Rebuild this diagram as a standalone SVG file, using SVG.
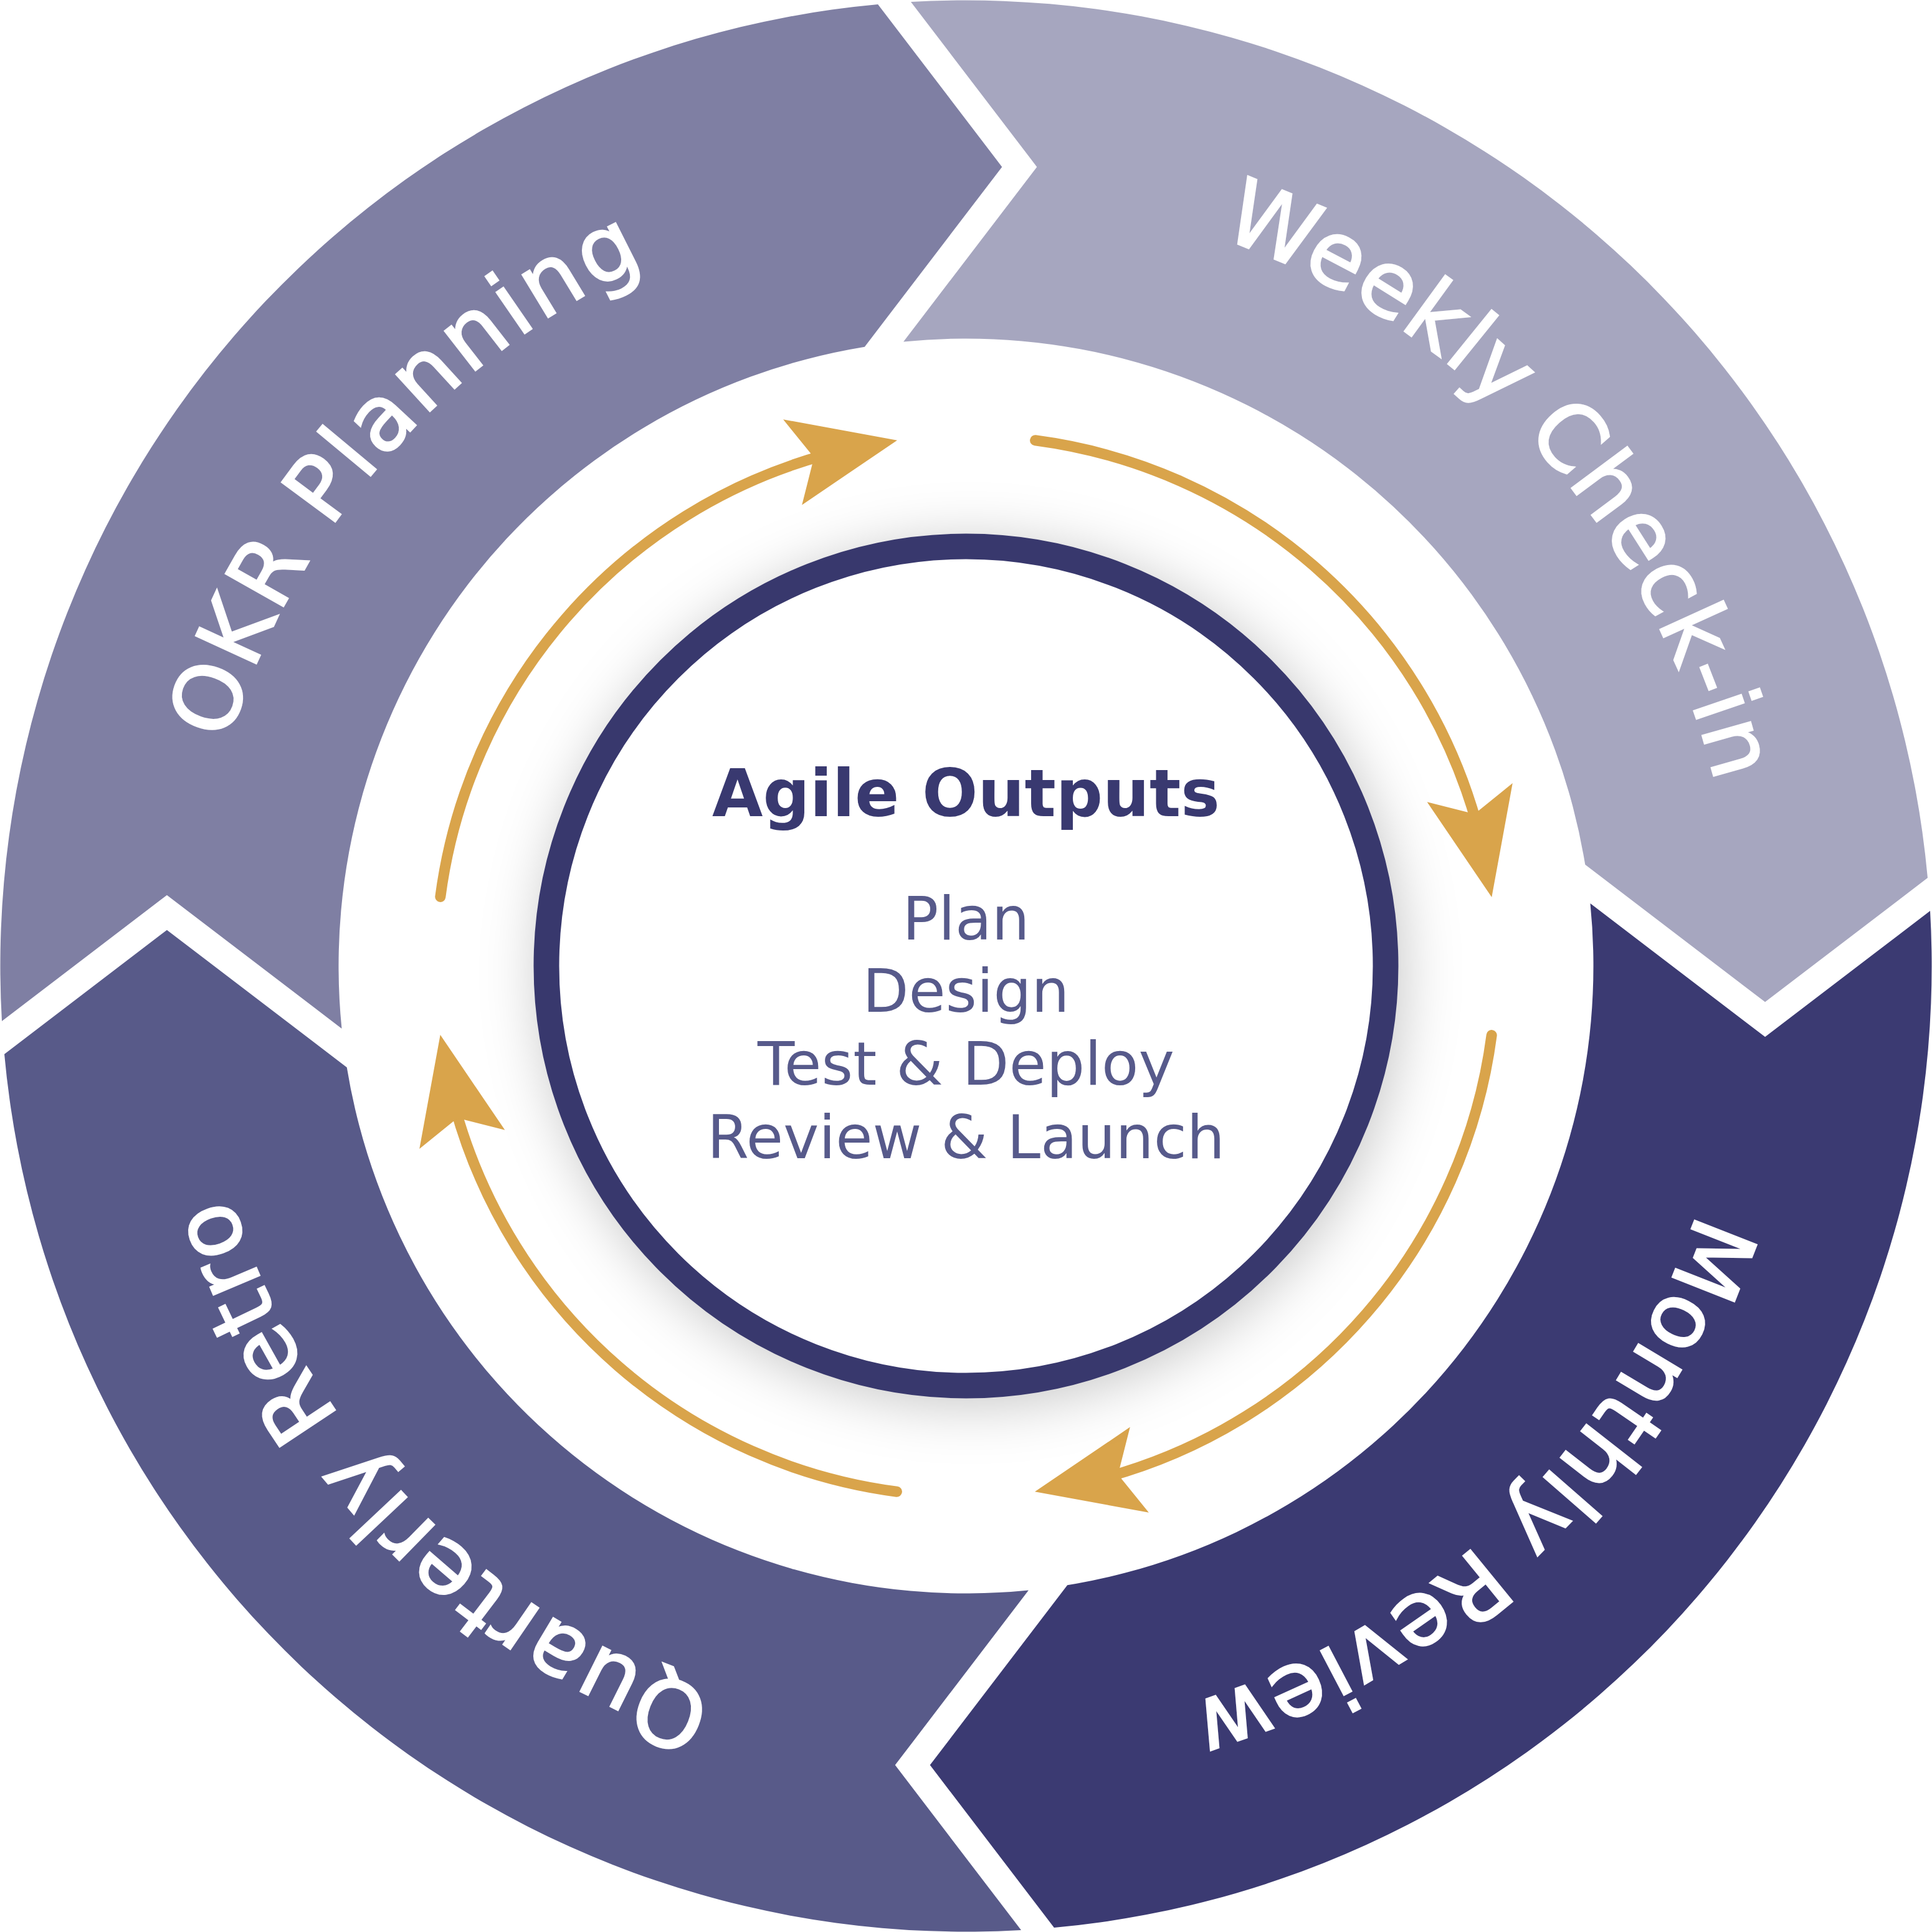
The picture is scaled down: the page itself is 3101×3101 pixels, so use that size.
<svg xmlns="http://www.w3.org/2000/svg" xmlns:xlink="http://www.w3.org/1999/xlink" width="3101" height="3101" viewBox="0 0 3101 3101">
  <style>
    .seg-label { font-family: "DejaVu Sans", "Open Sans", sans-serif; font-size: 146px; font-weight: 400; fill: #ffffff; stroke: #ffffff; stroke-width: 3; }
    .title { font-family: "DejaVu Sans", "Open Sans", sans-serif; font-size: 106px; font-weight: 700; fill: #393970; }
    .item { font-family: "DejaVu Sans", "Open Sans", sans-serif; font-size: 96px; font-weight: 400; fill: #575a8b; }
    .arc { fill: none; stroke: #d9a44b; stroke-width: 17; stroke-linecap: round; }
    .head { fill: #d9a44b; }
  </style>
  <defs>
    <path id="seg" d="M 1462.0 3.0 A 1550 1550 0 0 1 3094.0 1409.1 L 2833.1 1608.3 L 2544.3 1387.8 A 1007 1007 0 0 0 1450.1 548.5 L 1664.3 267.9 Z"/>
    <path id="lbl" d="M 331.3 1335.5 A 1238 1238 0 0 1 2769.7 1335.5" fill="none"/>
    <g id="arrow">
      <path class="arc" d="M 1661.6 706.8 A 851 851 0 0 1 2370.5 1323.1"/>
      <polygon class="head" points="2394.3,1440.0 2427.8,1257.1 2366.7,1306.5 2290.6,1287.2"/>
    </g>
    <filter id="shadow" x="-20%" y="-20%" width="140%" height="140%">
      <feGaussianBlur stdDeviation="45"/>
    </filter>
  </defs>

  <rect width="3101" height="3101" fill="#ffffff"/>

  <g id="okr-planning">
    <use href="#seg" transform="rotate(270 1550.5 1550.5)" fill="#7f7fa3"/>
    <text class="seg-label" transform="rotate(-48.85 1550.5 1550.5)"><textPath href="#lbl" startOffset="50%" text-anchor="middle" textLength="1050">OKR Planning</textPath></text>
  </g>
  <g id="weekly-check-in">
    <use href="#seg" fill="#a6a6bf"/>
    <text class="seg-label" transform="rotate(47.75 1550.5 1550.5)"><textPath href="#lbl" startOffset="50%" text-anchor="middle" textLength="1234">Weekly Check-in</textPath></text>
  </g>
  <g id="monthly-review">
    <use href="#seg" transform="rotate(90 1550.5 1550.5)" fill="#3b3a72"/>
    <text class="seg-label" transform="rotate(135.85 1550.5 1550.5)"><textPath href="#lbl" startOffset="50%" text-anchor="middle" textLength="1178">Monthly Review</textPath></text>
  </g>
  <g id="quarterly-retro">
    <use href="#seg" transform="rotate(180 1550.5 1550.5)" fill="#585a89"/>
    <text class="seg-label" transform="rotate(225.8 1550.5 1550.5)"><textPath href="#lbl" startOffset="50%" text-anchor="middle" textLength="1159">Quarterly Retro</textPath></text>
  </g>

  <g id="connectors">
    <use href="#arrow"/>
    <use href="#arrow" transform="rotate(90 1550.5 1550.5)"/>
    <use href="#arrow" transform="rotate(180 1550.5 1550.5)"/>
    <use href="#arrow" transform="rotate(270 1550.5 1550.5)"/>
  </g>

  <g id="agile-outputs">
    <circle cx="1558" cy="1562" r="694" fill="#000000" fill-opacity="0.22" filter="url(#shadow)"/>
    <circle cx="1550.5" cy="1550.5" r="673.5" fill="#ffffff" stroke="#38386d" stroke-width="41"/>
    <text class="title" x="1550.5" y="1310" text-anchor="middle" textLength="815" lengthAdjust="spacingAndGlyphs">Agile Outputs</text>
    <text class="item" x="1550.5" y="1508" text-anchor="middle" textLength="204" lengthAdjust="spacingAndGlyphs">Plan</text>
    <text class="item" x="1550.5" y="1624" text-anchor="middle" textLength="332" lengthAdjust="spacingAndGlyphs">Design</text>
    <text class="item" x="1550.5" y="1741" text-anchor="middle" textLength="669" lengthAdjust="spacingAndGlyphs">Test &amp; Deploy</text>
    <text class="item" x="1550.5" y="1859" text-anchor="middle" textLength="831" lengthAdjust="spacingAndGlyphs">Review &amp; Launch</text>
  </g>
</svg>
